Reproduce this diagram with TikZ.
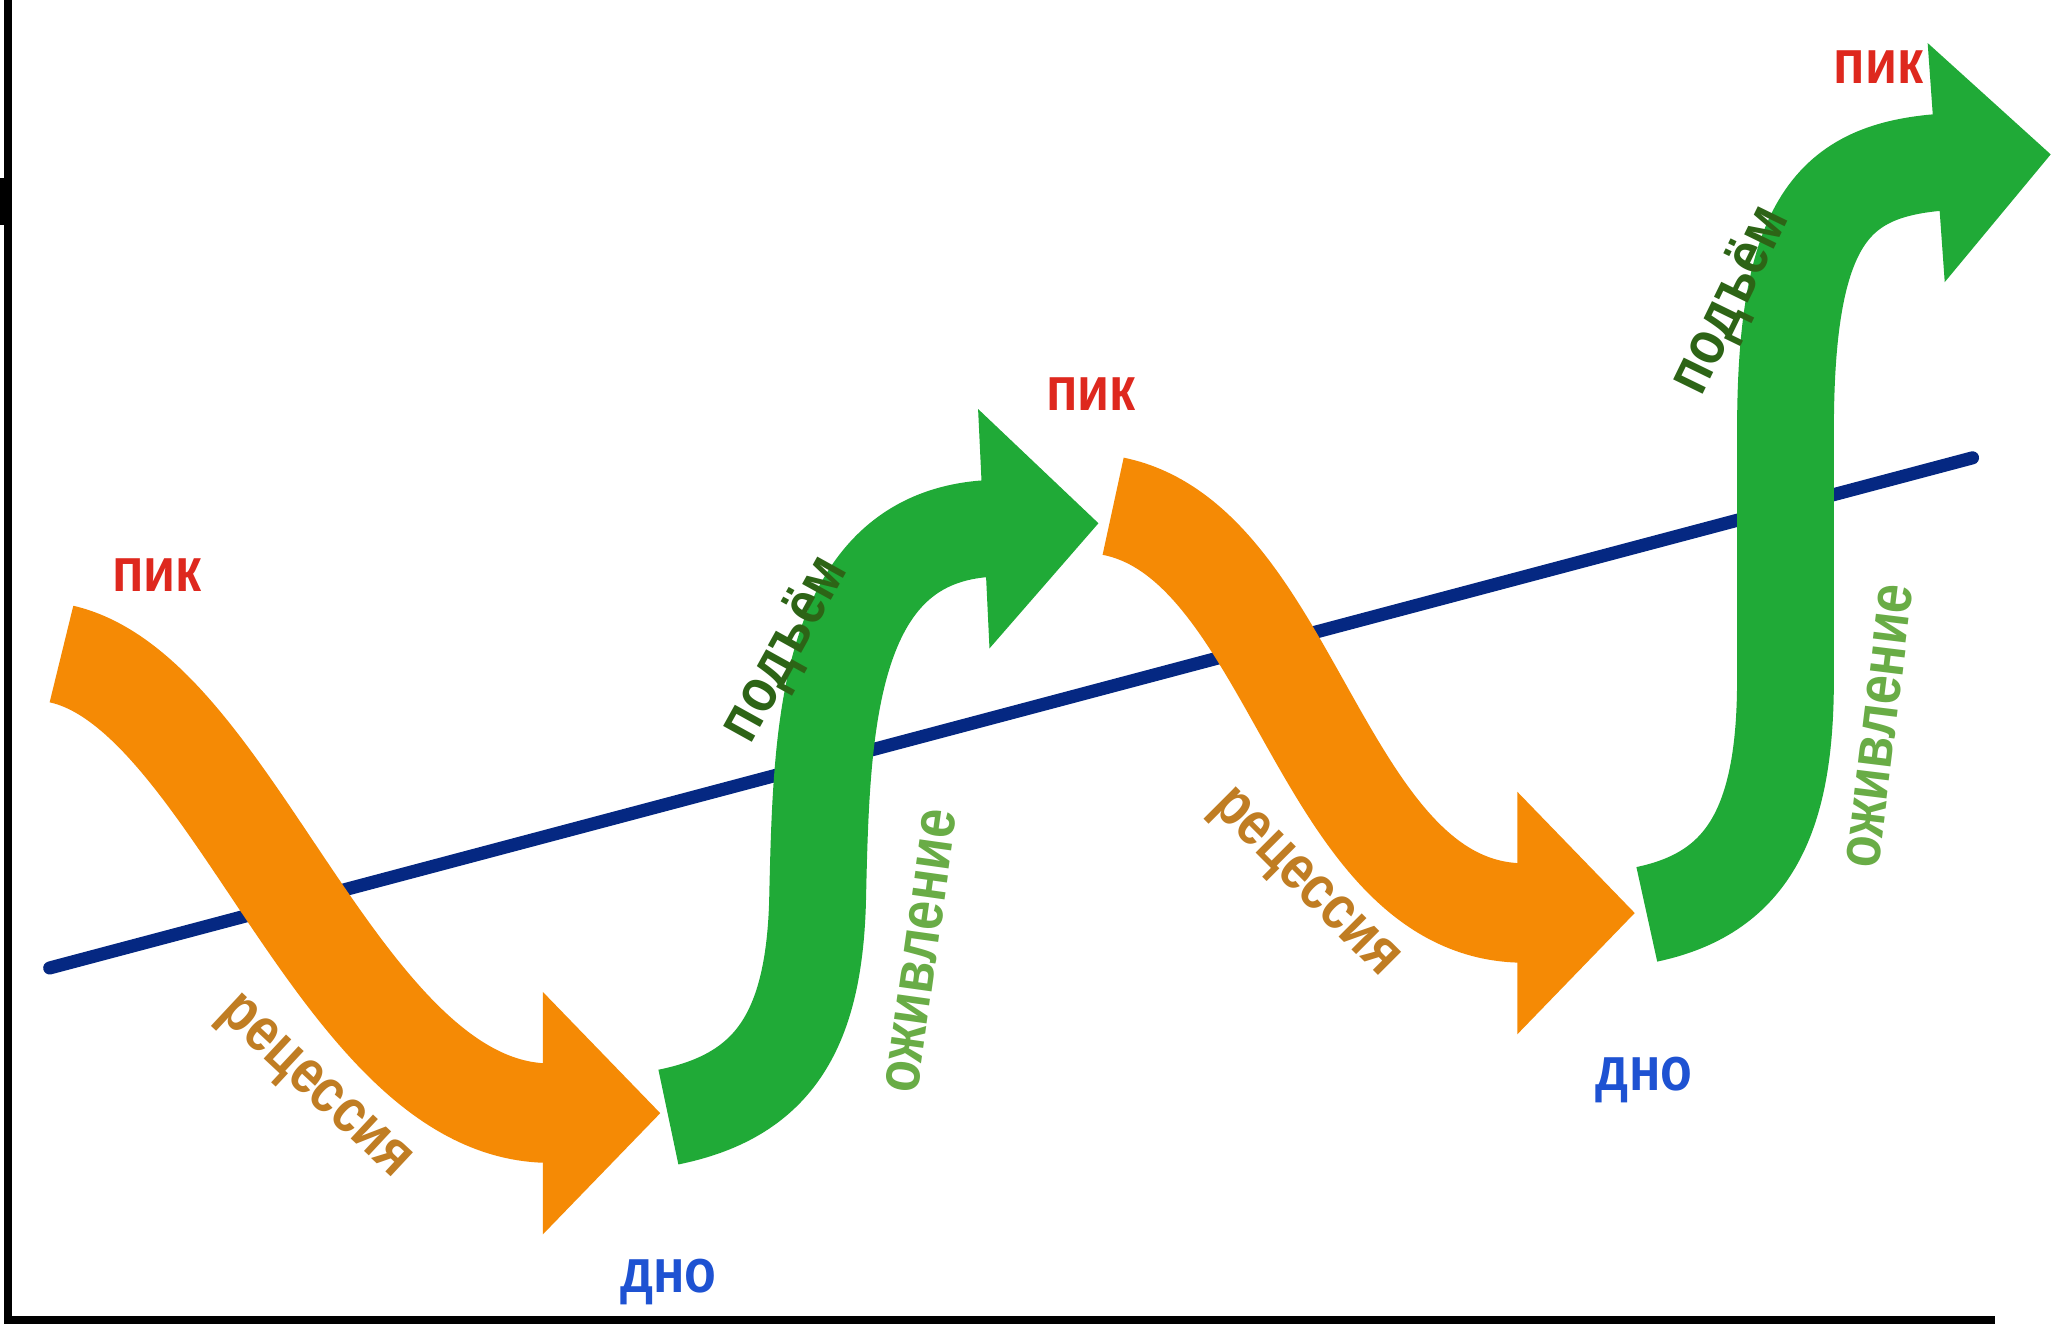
\documentclass[tikz,border=0pt]{standalone}
\usepackage{fontspec}
\setmainfont{Liberation Sans}
\newfontfamily\labfont[FakeStretch=0.84]{Liberation Sans}
\usetikzlibrary{arrows.meta}
\definecolor{recorange}{RGB}{245,138,5}
\definecolor{upgreen}{RGB}{32,170,55}
\definecolor{trendblue}{RGB}{5,40,130}
\definecolor{peakred}{RGB}{222,40,30}
\definecolor{dnoblue}{RGB}{30,82,210}
\definecolor{rectext}{RGB}{192,125,35}
\definecolor{podtext}{RGB}{45,100,22}
\definecolor{ozhtext}{RGB}{105,172,70}

\begin{document}
\begin{tikzpicture}[x=0.1mm,y=-0.1mm,
    axisline/.style={line width=0.6mm,black},
    trend/.style={line width=1mm,trendblue,line cap=round},
    recarrow/.style={line width=7.6mm,draw=recorange,-{Triangle[length=9mm,width=18mm]}},
    uparrow/.style={line width=7.4mm,draw=upgreen,-{Triangle[length=8.8mm,width=17.8mm]}},
    lab/.style={font=\labfont\bfseries\fontsize{13.5}{15}\selectfont},
    piklabel/.style={lab,text=peakred},
    dnolabel/.style={lab,text=dnoblue,anchor=base},
    reclabel/.style={lab,text=rectext},
    podlabel/.style={lab,text=podtext},
    ozhlabel/.style={lab,text=ozhtext}]
  \path[use as bounding box,fill=white] (0,0) rectangle (1568,1014);

  % axes
  \draw[axisline] (6,0) |- (1525,1009);
  \fill[black] (0,136) rectangle (9,172);

  % trend
  \coordinate (t0) at (38,740);
  \coordinate (t1) at (1508,350);
  \draw[trend] (t0) -- (t1);

  % waves
  \coordinate (r1s) at (47,500);
  \coordinate (r1e) at (505,851);
  \coordinate (u1s) at (511,854);
  \coordinate (u1e) at (840,400);
  \coordinate (r2s) at (851,387);
  \coordinate (r2e) at (1250,698);
  \coordinate (u2s) at (1259,699);
  \coordinate (u2e) at (1568,118);
  \draw[recarrow] (r1s) .. controls (179,530) and (260,851) .. (r1e);
  \draw[uparrow] (u1s) .. controls (590,838) and (622,790) .. (625,690)
    .. controls (628,560) and (630,410) .. (u1e);
  \draw[recarrow] (r2s) .. controls (990,415) and (1010,698) .. (r2e);
  \draw[uparrow] (u2s) .. controls (1335,683) and (1365,630) .. (1365,520)
    -- (1365,330) .. controls (1365,170) and (1400,130) .. (u2e);

  % labels
  \node[piklabel] (pik1) at (120,440) {пик};
  \node[piklabel] (pik2) at (834,301) {пик};
  \node[piklabel] (pik3) at (1436,51) {пик};
  \node[dnolabel] (dno1) at (511,988) {дно};
  \node[dnolabel] (dno2) at (1257,834) {дно};
  \node[reclabel,rotate=-43] (rec1) at (239,833) {рецессия};
  \node[reclabel,rotate=-45] (rec2) at (996,677) {рецессия};
  \node[podlabel,rotate=61] (pod1) at (601,497) {подъём};
  \node[podlabel,rotate=64] (pod2) at (1324,230) {подъём};
  \node[ozhlabel,rotate=82] (ozh1) at (704,727) {оживление};
  \node[ozhlabel,rotate=83] (ozh2) at (1437,555) {оживление};
\end{tikzpicture}
\end{document}
